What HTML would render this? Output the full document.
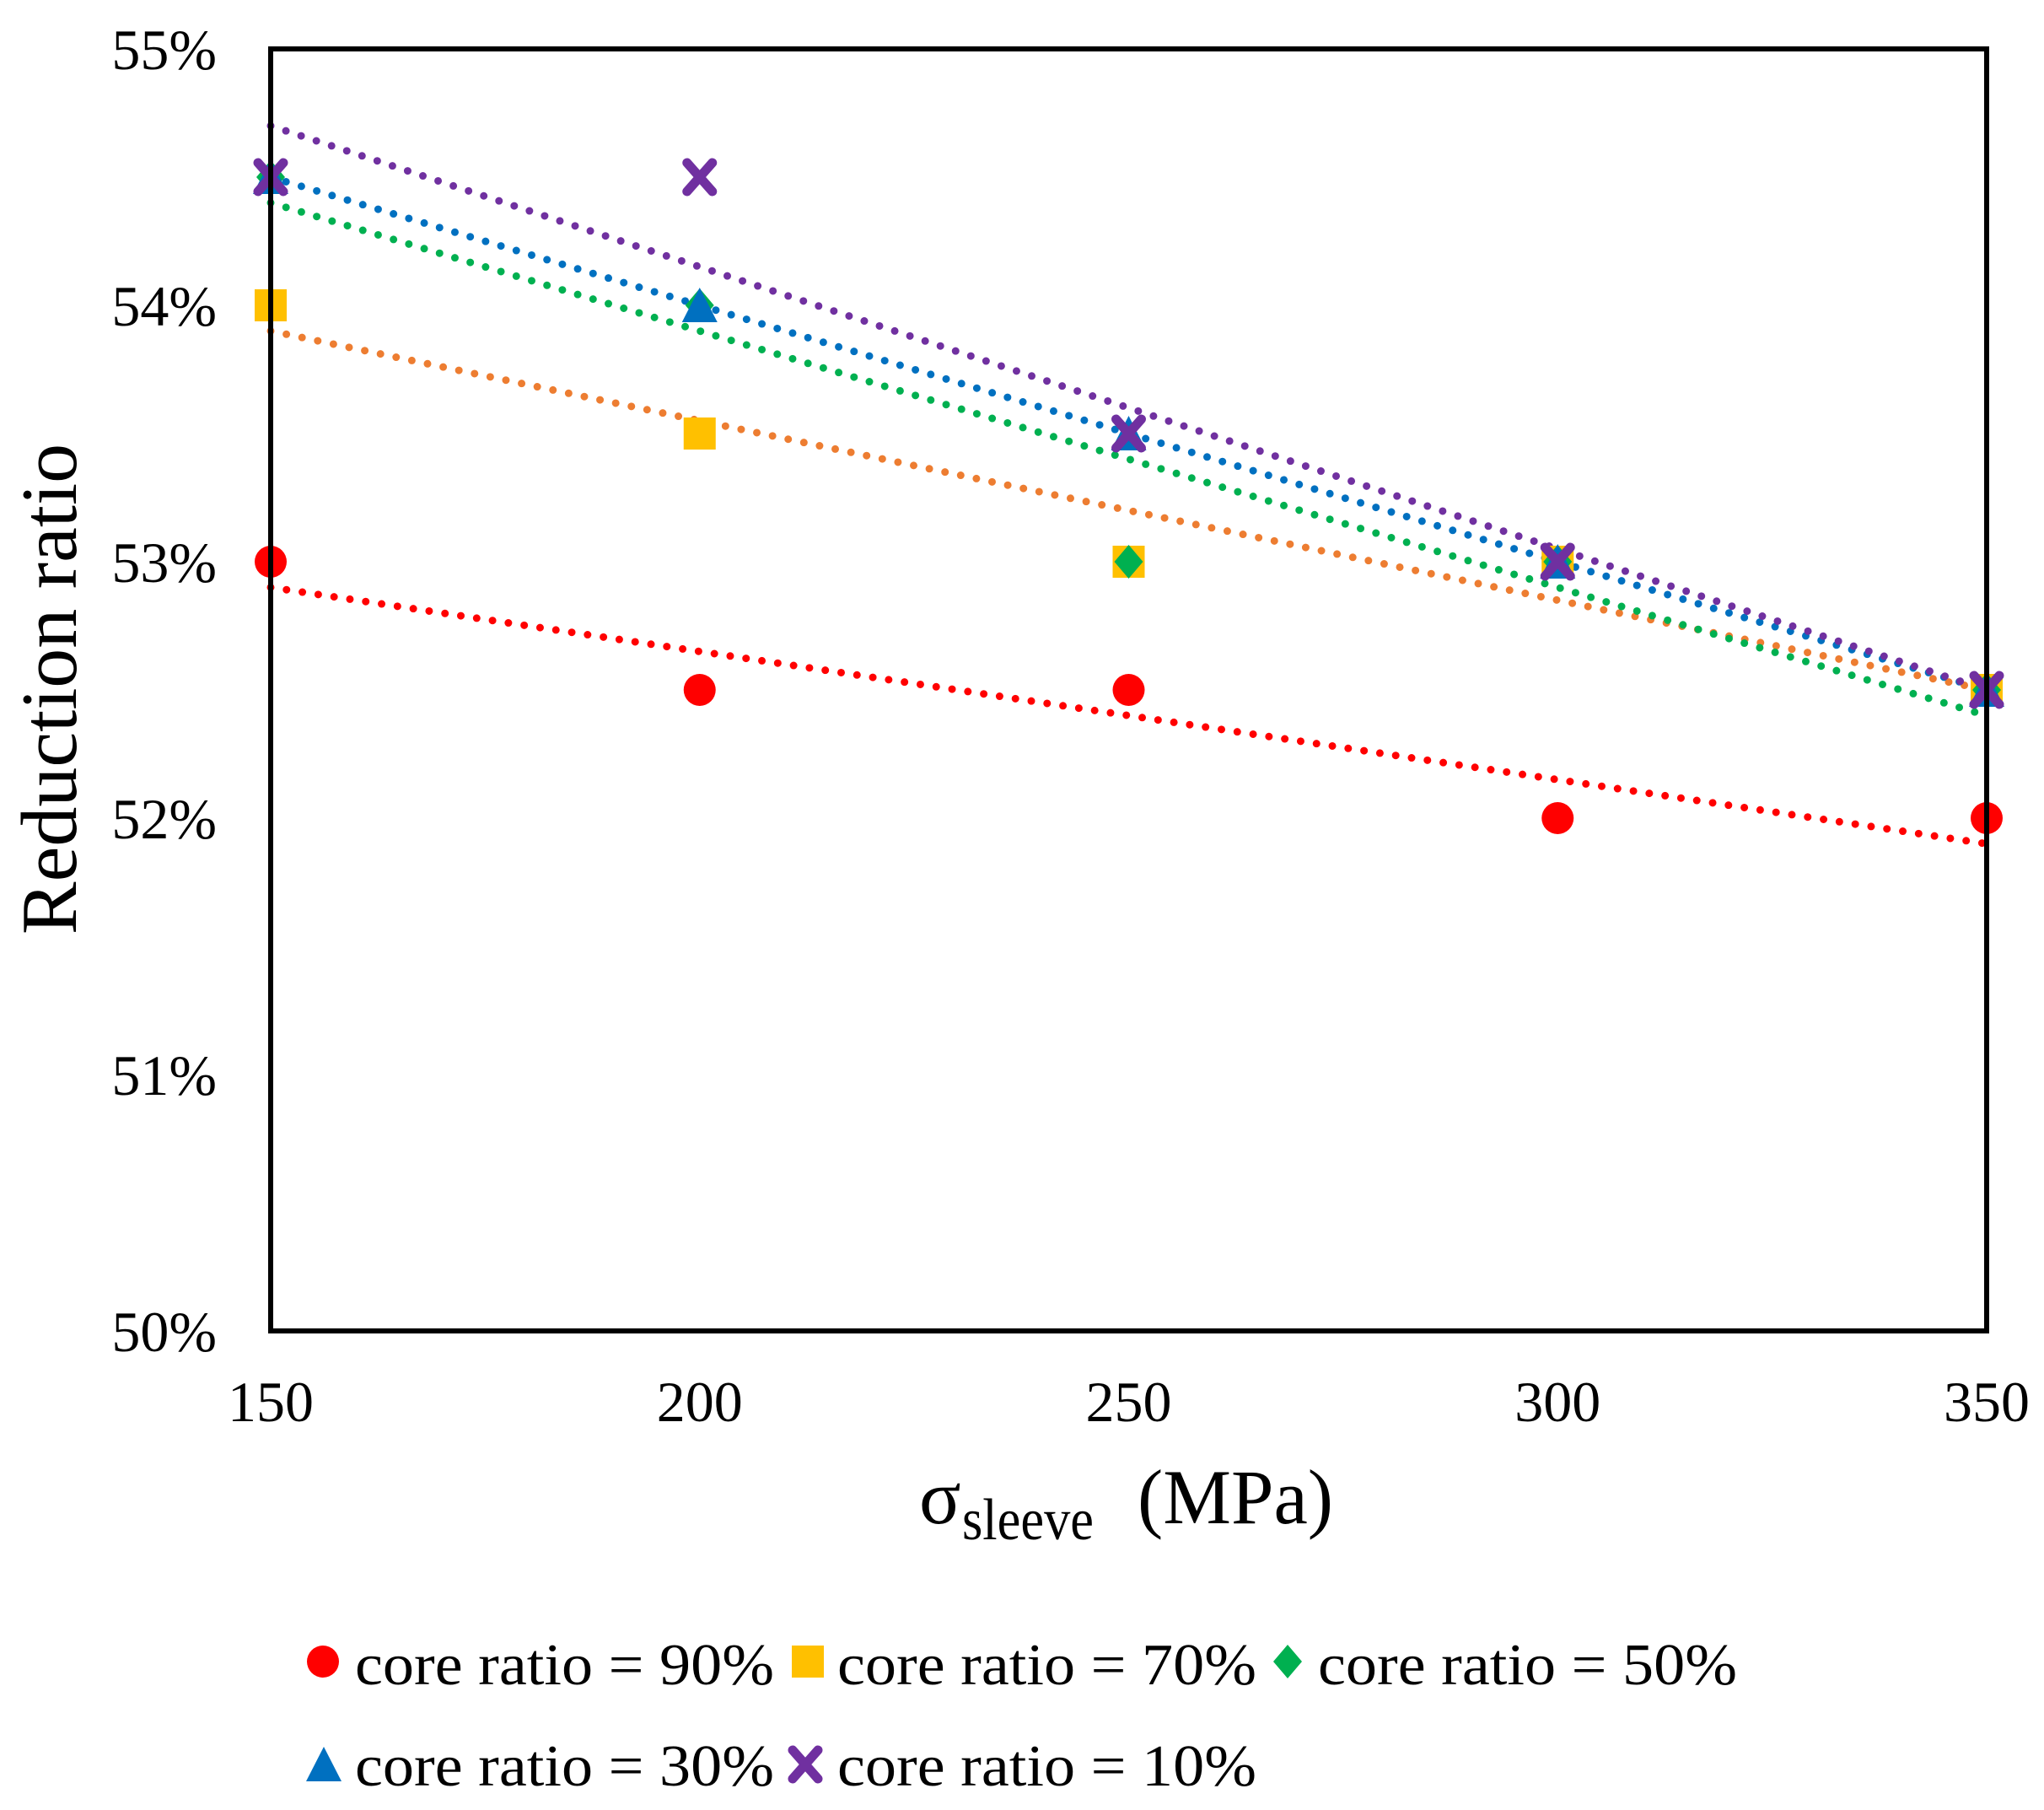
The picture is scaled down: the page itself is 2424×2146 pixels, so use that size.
<!DOCTYPE html>
<html><head><meta charset="utf-8"><style>
html,body{margin:0;padding:0;background:#fff;}
svg{display:block;font-family:"Liberation Serif",serif;}
</style></head><body>
<svg id="chart" width="2424" height="2146" viewBox="0 0 2424 2146" xmlns="http://www.w3.org/2000/svg">
<rect x="0" y="0" width="2424" height="2146" fill="#fff"/>
<g id="trends"></g>
<g id="marks"></g>
<rect x="321" y="58" width="2035" height="1520" fill="none" stroke="#000" stroke-width="6"/>
<g id="yticks"></g>
<g id="xticks"></g>
<text x="90" y="817" font-size="94" text-anchor="middle" transform="rotate(-90 90 817)">Reduction ratio</text>
<g>
<text x="1090" y="1806" font-size="92">σ</text>
<text x="1141" y="1825" font-size="70" textLength="156" lengthAdjust="spacingAndGlyphs">sleeve</text>
<text x="1349" y="1806" font-size="92" textLength="232" lengthAdjust="spacingAndGlyphs">(MPa)</text>
</g>
<g id="legend"></g>
</svg>
<script>
const xValues = [150, 200, 250, 300, 350];
const seriesNames = ["core ratio = 90%", "core ratio = 70%", "core ratio = 50%", "core ratio = 30%", "core ratio = 10%"];
const s90 = [53.0, 52.5, 52.5, 52.0, 52.0];
const s70 = [54.0, 53.5, 53.0, 53.0, 52.5];
const s50 = [54.5, 54.0, 53.0, 53.0, 52.5];
const s30 = [54.5, 54.0, 53.5, 53.0, 52.5];
const s10 = [54.5, 54.5, 53.5, 53.0, 52.5];
const yTickValues = [50, 51, 52, 53, 54, 55];
const xTickValues = [150, 200, 250, 300, 350];

const NS = "http://www.w3.org/2000/svg";
const X0 = 321, X1 = 2356, Y0 = 1578, Y1 = 58;
function xs(v){ return X0 + (v - 150) / 200 * (X1 - X0); }
function ys(v){ return Y0 - (v - 50) / 5 * (Y0 - Y1); }
function mk(tag, attrs, parent){ const e = document.createElementNS(NS, tag); for (const k in attrs) e.setAttribute(k, attrs[k]); parent.appendChild(e); return e; }

const series = [
  {vals: s90, marker: "circle", fill: "#FF0000", line: "#FF0000"},
  {vals: s70, marker: "square", fill: "#FFC000", line: "#ED7D31"},
  {vals: s50, marker: "diamond", fill: "#00B050", line: "#00B050"},
  {vals: s30, marker: "triangle", fill: "#0070C0", line: "#0070C0"},
  {vals: s10, marker: "x", fill: "#7030A0", line: "#7030A0"}
];

function drawMarker(type, cx, cy, color, parent, scale){
  const s = scale || 1;
  let e;
  if (type === "circle") e = mk("ellipse", {cx: cx, cy: cy, rx: 19*s, ry: 19*s, fill: color}, parent);
  else if (type === "square") e = mk("rect", {x: cx-19*s, y: cy-19*s, width: 38*s, height: 38*s, fill: color}, parent);
  else if (type === "diamond") e = mk("polygon", {points: `${cx},${cy-20*s} ${cx+17*s},${cy} ${cx},${cy+20*s} ${cx-17*s},${cy}`, fill: color}, parent);
  else if (type === "triangle") e = mk("polygon", {points: `${cx},${cy-21*s} ${cx+21*s},${cy+20*s} ${cx-21*s},${cy+20*s}`, fill: color}, parent);
  else {
    e = mk("path", {d: `M${cx-15*s},${cy-17*s} L${cx+15*s},${cy+17*s} M${cx+15*s},${cy-17*s} L${cx-15*s},${cy+17*s}`, stroke: color, "stroke-width": 11*s, "stroke-linecap": "round", fill: "none"}, parent);
  }
  return e;
}

const trends = document.getElementById("trends");
const marks = document.getElementById("marks");
series.forEach((s, i) => {
  const n = xValues.length;
  const mx = xValues.reduce((a,b)=>a+b,0)/n, my = s.vals.reduce((a,b)=>a+b,0)/n;
  let num = 0, den = 0;
  for (let k=0;k<n;k++){ num += (xValues[k]-mx)*(s.vals[k]-my); den += (xValues[k]-mx)**2; }
  const slope = num/den, b = my - slope*mx;
  const xa = xValues[0], xb = xValues[n-1];
  const ln = mk("line", {x1: xs(xa), y1: ys(b+slope*xa), x2: xs(xb), y2: ys(b+slope*xb), stroke: s.line, "stroke-width": 9, "stroke-linecap": "round", "stroke-dasharray": "0 19"}, trends);
  
  
});
series.forEach((s, i) => {
  s.vals.forEach((v, k) => {
    const e = drawMarker(s.marker, xs(xValues[k]), ys(v), s.fill, marks);
    
    
  });
});

const yt = document.getElementById("yticks");
yTickValues.forEach(v => {
  const t = mk("text", {x: 257, y: ys(v)+24, "font-size": 68, "text-anchor": "end"}, yt);
  t.textContent = v + "%";
  
  
});
const xt = document.getElementById("xticks");
xTickValues.forEach(v => {
  const t = mk("text", {x: xs(v), y: 1685, "font-size": 68, "text-anchor": "middle"}, xt);
  t.textContent = v;
  
  
});

const lg = document.getElementById("legend");
const legendPos = [[383,1970,421,1997],[958,1970,993,1997],[1527,1970,1563,1997],[384,2092,421,2117],[955,2092,993,2117]];
series.forEach((s, i) => {
  const p = legendPos[i];
  const g = mk("g", {}, lg);
  
  
  drawMarker(s.marker, p[0], p[1], s.fill, g, 1);
  const t = mk("text", {x: p[2], y: p[3], "font-size": 70, textLength: 497, lengthAdjust: "spacingAndGlyphs"}, g);
  t.textContent = seriesNames[i];
});
</script>
</body></html>
